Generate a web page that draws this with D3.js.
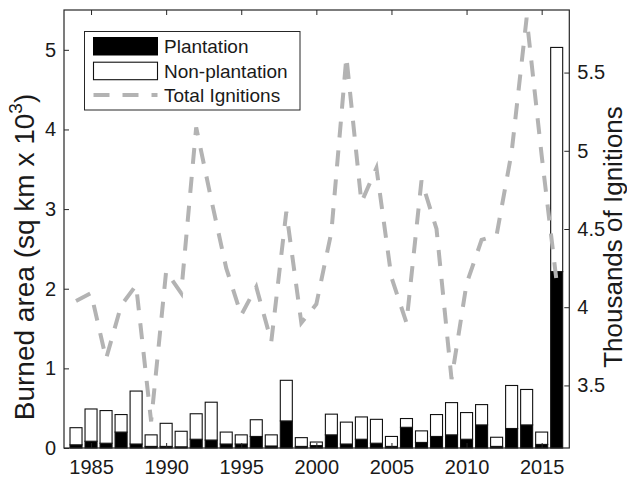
<!DOCTYPE html>
<html>
<head>
<meta charset="utf-8">
<script src="https://cdn.jsdelivr.net/npm/d3@7"></script>
<style>
  body { margin: 0; background: #fff; }
  svg { display: block; }
  text { font-family: "Liberation Sans", Arial, Helvetica, sans-serif; fill: #1a1a1a; }
</style>
</head>
<body>
<div id="chart"></div>
<script>
// ---- data ----
const years = [1984,1985,1986,1987,1988,1989,1990,1991,1992,1993,1994,1995,1996,1997,1998,1999,2000,
               2001,2002,2003,2004,2005,2006,2007,2008,2009,2010,2011,2012,2013,2014,2015,2016];
// burned area, sq km x 10^3
const plantation = [0.04,0.085,0.06,0.2,0.05,0.02,0.02,0.015,0.11,0.1,0.05,0.05,0.145,0.025,0.34,0.02,0.03,
                    0.165,0.05,0.11,0.06,0.02,0.26,0.07,0.145,0.165,0.11,0.29,0.02,0.245,0.29,0.045,2.215];
const nonPlantation = [0.215,0.405,0.41,0.22,0.665,0.145,0.29,0.195,0.32,0.475,0.15,0.115,0.21,0.14,0.51,0.11,0.045,
                       0.26,0.275,0.28,0.30,0.125,0.11,0.145,0.275,0.405,0.335,0.255,0.115,0.54,0.445,0.155,2.815];
// thousands of ignitions
const ignitions = [4.04,4.09,3.67,4.01,4.14,3.27,4.23,4.09,5.15,4.69,4.25,3.95,4.13,3.78,4.61,3.90,4.02,
                   4.48,5.60,4.67,4.89,4.19,3.90,4.81,4.50,3.54,4.15,4.43,4.46,4.99,5.85,4.97,4.16];
const xTicks = [1985,1990,1995,2000,2005,2010,2015];
const yLeftTicks = [0,1,2,3,4,5];
const yRightTicks = [3.5,4,4.5,5,5.5];
const legendLabels = ["Plantation","Non-plantation","Total Ignitions"];

// ---- layout ----
const W = 627, H = 481;
const pL = 64, pR = 569.3, pT = 10, pB = 448;
const axisColor = "#262626";
const lineColor = "#b3b3b3";

const svg = d3.select("#chart").append("svg").attr("width", W).attr("height", H);

const x = d3.scaleLinear().domain([1983.2, 2016.84]).range([pL, pR]);
const yL = d3.scaleLinear().domain([0, 5.5]).range([pB, pT]);
const yR = d3.scaleLinear().domain([3.1, 5.9]).range([pB, pT]);
const barW = 0.8 * (x(1) - x(0));

// stacked data
const stackData = years.map((yr, i) => ({year: yr, p: plantation[i], n: nonPlantation[i]}));
const series = d3.stack().keys(["p","n"])(stackData);
const fills = {p: "#000", n: "#fff"};

const gBars = svg.append("g");
gBars.selectAll("g.series").data(series).join("g")
  .attr("class","series")
  .attr("fill", d => fills[d.key])
  .attr("stroke", "#111")
  .attr("stroke-width", 1.1)
  .selectAll("rect").data(d => d).join("rect")
  .attr("x", d => x(d.data.year) - barW/2)
  .attr("width", barW)
  .attr("y", d => yL(d[1]))
  .attr("height", d => Math.max(0, yL(d[0]) - yL(d[1])));

// ignition line
const lineGen = d3.line().x((d,i) => x(years[i])).y(d => yR(d));
svg.append("path").datum(ignitions)
  .attr("d", lineGen)
  .attr("fill","none")
  .attr("stroke", lineColor)
  .attr("stroke-width", 4)
  .attr("stroke-dasharray", "16,13");

// axes
const fmtYear = d3.format("d");
const axB = svg.append("g").attr("transform", `translate(0,${pB})`)
  .call(d3.axisBottom(x).tickValues(xTicks).tickFormat(fmtYear).tickSize(-5).tickPadding(12));
const axT = svg.append("g").attr("transform", `translate(0,${pT})`)
  .call(d3.axisTop(x).tickValues(xTicks).tickFormat("").tickSize(-5));
const axL = svg.append("g").attr("transform", `translate(${pL},0)`)
  .call(d3.axisLeft(yL).tickValues(yLeftTicks).tickFormat(d3.format("d")).tickSize(-5).tickPadding(8));
const axR = svg.append("g").attr("transform", `translate(${pR},0)`)
  .call(d3.axisRight(yR).tickValues(yRightTicks).tickFormat(d => String(d)).tickSize(-5).tickPadding(8));

[axB, axT, axL, axR].forEach(a => {
  a.select(".domain").remove();
  a.selectAll(".tick line").attr("stroke", axisColor).attr("stroke-width", 1);
  a.selectAll(".tick text").style("font-size","20px").attr("fill","#1a1a1a");
});

svg.append("rect").attr("x", pL).attr("y", pT).attr("width", pR - pL).attr("height", pB - pT)
  .attr("fill","none").attr("stroke", axisColor).attr("stroke-width", 1.2);

// axis titles
const lt = svg.append("text")
  .attr("transform", `translate(34,257) rotate(-90)`)
  .attr("text-anchor","middle")
  .style("font-size","28px");
lt.append("tspan").text("Burned area (sq km x 10");
lt.append("tspan").text("3").style("font-size","19px").attr("dy", -12);
lt.append("tspan").text(")").attr("dy", 12);

svg.append("text")
  .attr("transform", `translate(622,237) rotate(-90)`)
  .attr("text-anchor","middle")
  .style("font-size","26px")
  .text("Thousands of Ignitions");

// legend
const lg = svg.append("g");
lg.append("rect").attr("x",84.5).attr("y",31.5).attr("width",215.5).attr("height",78.5)
  .attr("fill","#fff").attr("stroke", axisColor).attr("stroke-width",1);
const rowY = [46, 71, 95];
lg.append("rect").attr("x",93.5).attr("y",rowY[0]-8.5).attr("width",64).attr("height",17.5)
  .attr("fill","#000").attr("stroke","#000");
lg.append("rect").attr("x",93.5).attr("y",rowY[1]-8.8).attr("width",64).attr("height",17.5)
  .attr("fill","#fff").attr("stroke","#111").attr("stroke-width",1.1);
lg.append("line").attr("x1",93.5).attr("x2",157.5).attr("y1",rowY[2]).attr("y2",rowY[2])
  .attr("stroke", lineColor).attr("stroke-width",4).attr("stroke-dasharray","16,13");
lg.selectAll("text.lbl").data(legendLabels).join("text")
  .attr("class","lbl")
  .attr("x",164).attr("y",(d,i) => rowY[i]).attr("dy","0.36em")
  .style("font-size","19px")
  .text(d => d);
</script>
</body>
</html>
